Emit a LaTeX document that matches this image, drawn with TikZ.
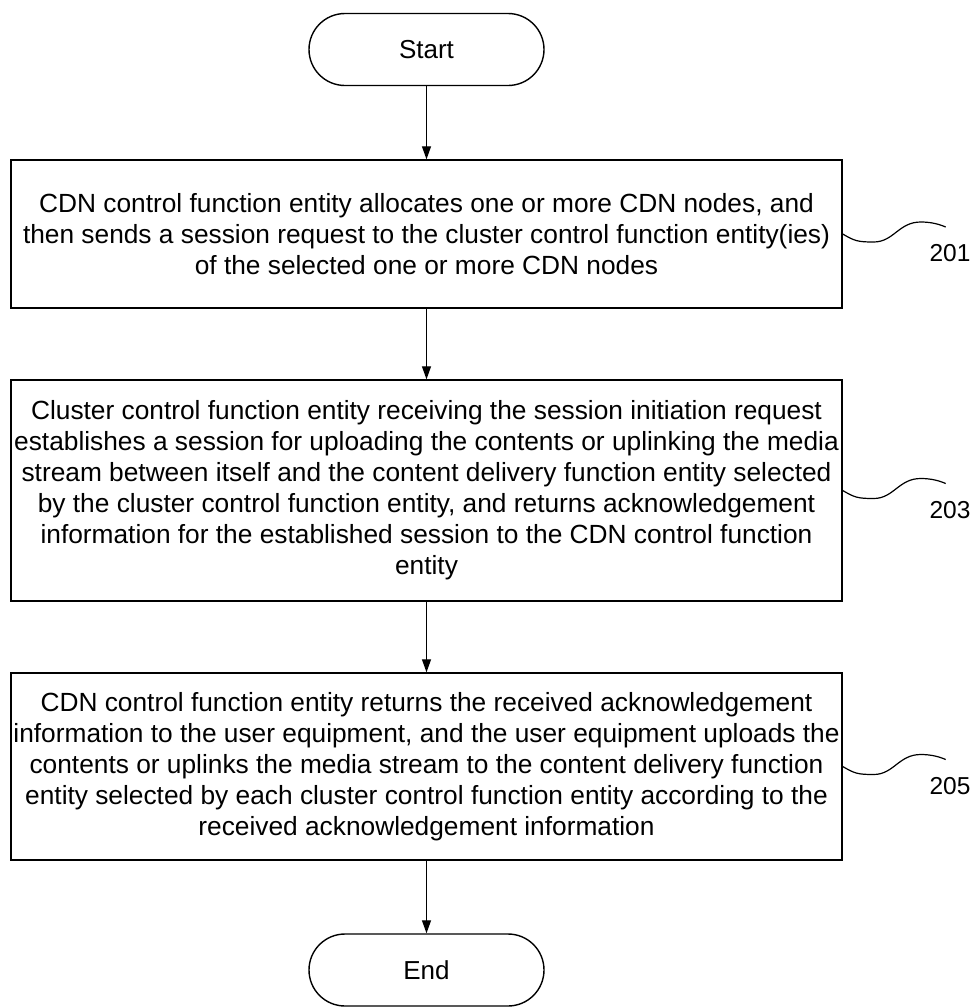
\documentclass[tikz,border=0pt]{standalone}
\usepackage{fontspec}
\setmainfont{Liberation Sans}
\usetikzlibrary{arrows.meta}
\begin{document}
\begin{tikzpicture}[x=1pt,y=1pt,
  every node/.style={inner sep=0pt},
  terminal/.style={draw, line width=1.4pt, minimum width=235pt, minimum height=72pt, rounded corners=36pt, font=\fontsize{26}{30}\selectfont},
  stepbox/.style={draw, line width=1.4pt, minimum width=831pt, align=center, font=\fontsize{26.3}{31}\selectfont},
  flow/.style={line width=1.2pt, -{Triangle[length=13pt,width=9pt]}},
  squiggle/.style={line width=1.2pt},
  reflabel/.style={font=\fontsize{24.5}{28}\selectfont}]
\useasboundingbox (0,0) rectangle (977,-1007);

\node[terminal] (start) at (426.5,-49.5) {Start};

\node[stepbox, minimum height=148pt] (s201) at (426.5,-234) {CDN control function entity allocates one or more CDN nodes, and\\
then sends a session request to the cluster control function entity(ies)\\
of the selected one or more CDN nodes};

\node[stepbox, minimum height=221pt] (s203) at (426.5,-490.5) {Cluster control function entity receiving the session initiation request\\
establishes a session for uploading the contents or uplinking the media\\
stream between itself and the content delivery function entity selected\\
by the cluster control function entity, and returns acknowledgement\\
information for the established session to the CDN control function\\
entity};

\node[stepbox, minimum height=187pt] (s205) at (426.5,-766.5) {CDN control function entity returns the received acknowledgement\\
information to the user equipment, and the user equipment uploads the\\
contents or uplinks the media stream to the content delivery function\\
entity selected by each cluster control function entity according to the\\
received acknowledgement information};

\node[terminal] (end) at (426.5,-970) {End};

\draw[flow] (start) -- (s201);
\draw[flow] (s201) -- (s203);
\draw[flow] (s203) -- (s205);
\draw[flow] (s205) -- (end);

\node[reflabel] (l201) at (950,-253) {201};
\node[reflabel] (l203) at (950,-510) {203};
\node[reflabel] (l205) at (950,-786) {205};

\draw[squiggle] (s201.east) .. controls +(12,-7) and +(-16,0) .. ++(31,-8) .. controls +(20,0) and +(-22,0) .. ++(47,20) .. controls +(10,0) and +(-7,3) .. ++(25,-5);
\draw[squiggle] (s203.east) .. controls +(12,-7) and +(-16,0) .. ++(31,-8) .. controls +(20,0) and +(-22,0) .. ++(47,20) .. controls +(10,0) and +(-7,3) .. ++(25,-5);
\draw[squiggle] (s205.east) .. controls +(12,-7) and +(-16,0) .. ++(31,-8) .. controls +(20,0) and +(-22,0) .. ++(47,20) .. controls +(10,0) and +(-7,3) .. ++(25,-5);
\end{tikzpicture}
\end{document}
